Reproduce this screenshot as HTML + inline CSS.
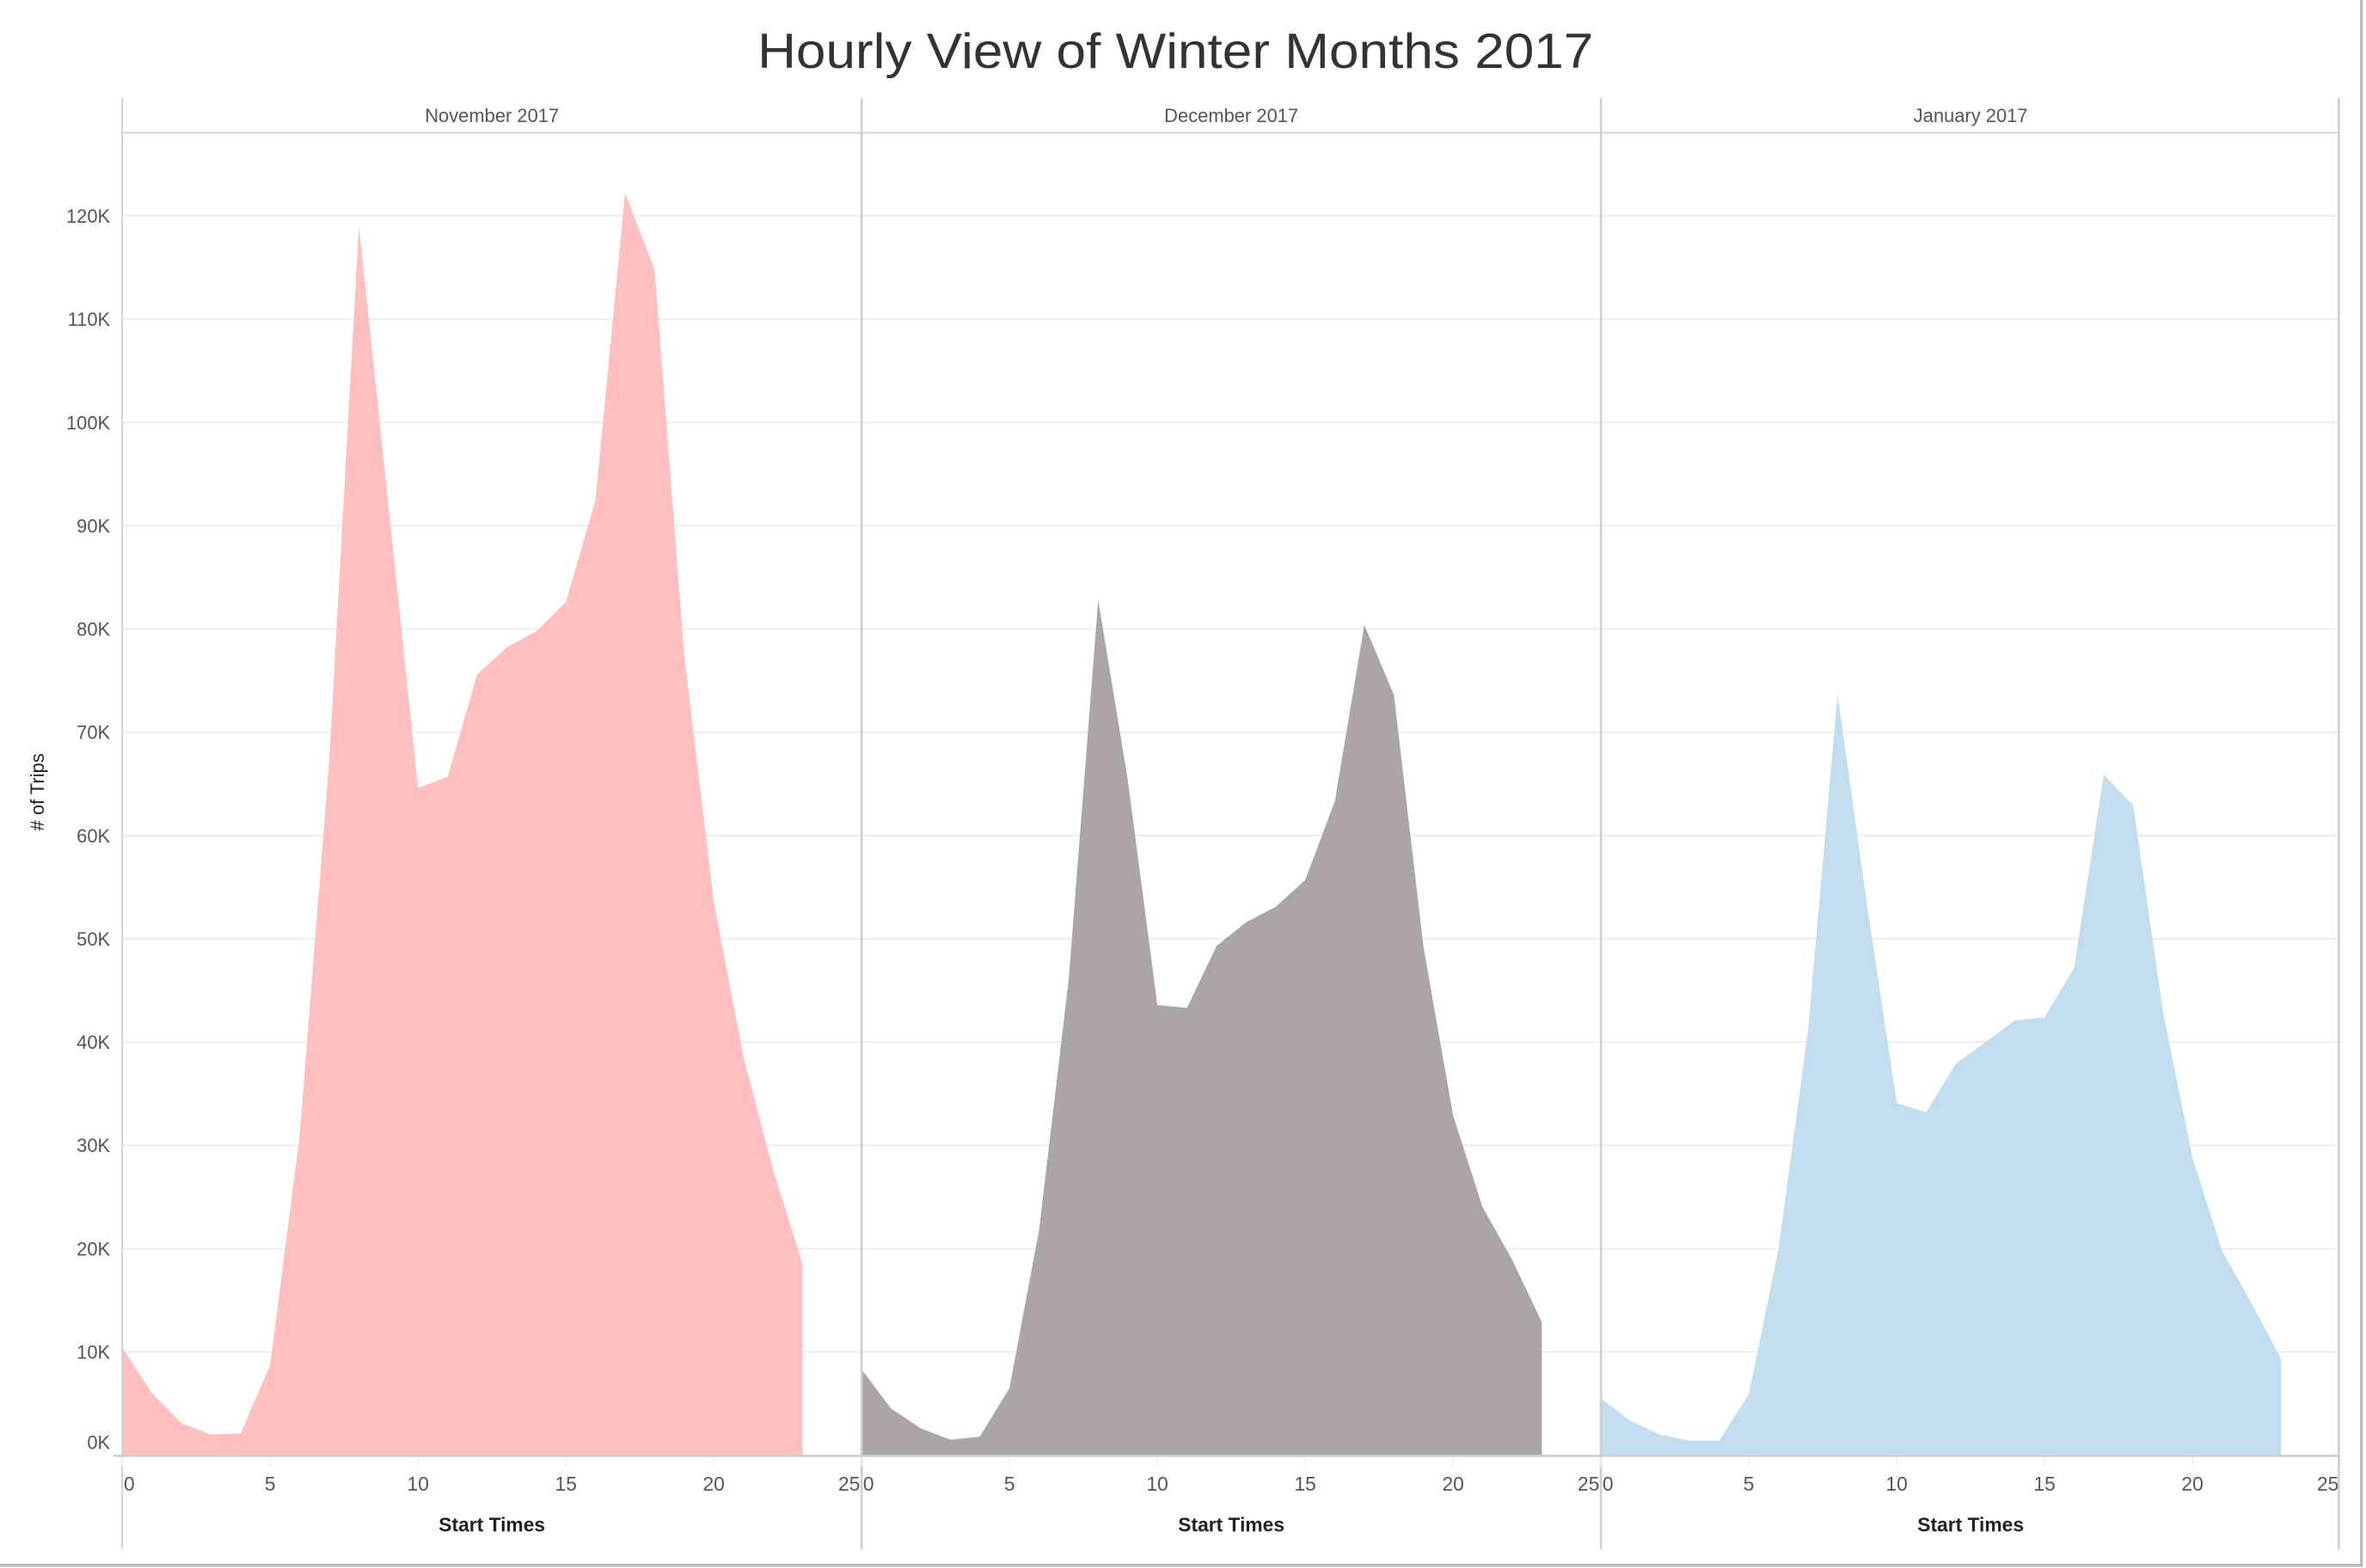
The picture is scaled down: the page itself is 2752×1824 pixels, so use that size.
<!DOCTYPE html>
<html><head><meta charset="utf-8"><style>
html,body{margin:0;padding:0;background:#fff;}
svg{display:block;font-family:"Liberation Sans",sans-serif;}
</style></head><body>
<svg id="chart" width="2752" height="1824" viewBox="0 0 1568 1039.3" xmlns="http://www.w3.org/2000/svg">
<rect x="0" y="0" width="1568" height="1040" fill="#fff"/>
<text x="779" y="45" text-anchor="middle" font-size="33" fill="#333" textLength="554" lengthAdjust="spacingAndGlyphs">Hourly View of Winter Months 2017</text>
<line x1="1565" y1="0" x2="1565" y2="1038" stroke="#bbb" stroke-width="2"/>
<line x1="0" y1="1037.5" x2="1566" y2="1037.5" stroke="#bbb" stroke-width="2"/>
<text transform="translate(29,525) rotate(-90)" text-anchor="middle" font-size="12.5" fill="#222">#  of Trips</text>
<g id="grid"></g>
<g id="panels"></g>
</svg>
<script>
const months = ["November 2017","December 2017","January 2017"];
const colors = ["#ffbfbf","#aba6a3","#c3ddf0"];
const hours = [0,1,2,3,4,5,6,7,8,9,10,11,12,13,14,15,16,17,18,19,20,21,22,23];
const novTrips = [10.4,6,3.1,2,2.1,8.7,31,67.4,119,92,64.6,65.7,75.6,78.2,79.8,82.6,92.5,122.2,114.8,77.4,53.6,38.6,27.7,18.5];
const decTrips = [8.3,4.5,2.6,1.5,1.8,6.5,21.8,46,82.8,65.4,43.6,43.3,49.3,51.6,53.1,55.7,63.3,80.4,73.6,49.2,32.9,24,18.9,12.9];
const janTrips = [5.5,3.3,2,1.4,1.4,5.9,19.9,41.1,73.7,53.2,34.1,33.2,37.9,40,42.1,42.4,47.2,65.9,62.9,43,28.8,19.8,14.7,9.3];
const yTicks = [0,10,20,30,40,50,60,70,80,90,100,110,120];
const xTicks = [0,5,10,15,20,25];

const NS = "http://www.w3.org/2000/svg";
const series = [novTrips, decTrips, janTrips];
const panelLeft = [81,571,1061];
const panelW = 490;
function yScale(v){ return 964.5 - v*6.845; }
function xScale(p,h){ return panelLeft[p] + h*(panelW/25); }
function mk(tag, attrs, parent){ const e=document.createElementNS(NS,tag); for(const k in attrs) e.setAttribute(k,attrs[k]); parent.appendChild(e); return e; }

const grid = document.getElementById('grid');
const panels = document.getElementById('panels');
yTicks.forEach(t=>{
  const y=yScale(t);
  if(t>0){
    const l=mk('line',{x1:81,x2:1550,y1:y,y2:y,stroke:'#ececec','stroke-width':1},grid);
    
    
  }
  const ly = t===0 ? y-4 : y+4.5;
  const tx=mk('text',{x:73,y:ly,'text-anchor':'end','font-size':12.5,fill:'#555'},grid);
  tx.textContent=t+'K';
  
  
});

months.forEach((m,p)=>{
  const g=mk('g',{},panels);
  
  
  const vals=series[p];
  let d='M'+xScale(p,hours[0])+','+yScale(0);
  hours.forEach((h,i)=>{ d+=' L'+xScale(p,h)+','+yScale(vals[i]); });
  d+=' L'+xScale(p,hours[hours.length-1])+','+yScale(0)+' Z';
  const a=mk('path',{d:d,fill:colors[p]},g);
  
  
  mk('line',{x1:panelLeft[p],x2:panelLeft[p],y1:65,y2:1027,stroke:'#cfcfcf','stroke-width':p===0?1:1.5},g);
  mk('line',{x1:panelLeft[p],x2:panelLeft[p]+panelW,y1:88,y2:88,stroke:'#d0d0d0','stroke-width':1},g);
  mk('line',{x1:panelLeft[p],x2:panelLeft[p]+panelW,y1:965,y2:965,stroke:'#cfcfcf','stroke-width':1.5},g);
  const hd=mk('text',{x:panelLeft[p]+245,y:81,'text-anchor':'middle','font-size':12.5,fill:'#555'},g);
  hd.textContent=m;
  
  
  xTicks.forEach(t=>{
    const x=xScale(p,t);
    mk('line',{x1:x,x2:x,y1:966,y2:972,stroke:'#eee','stroke-width':1},g);
    const anchor = t===0?'start':(t===25?'end':'middle');
    const tx=mk('text',{x:t===0?x+1:(t===25?x-1:x),y:988,'text-anchor':anchor,'font-size':13,fill:'#555'},g);
    tx.textContent=t;
    
    
  });
  const xt=mk('text',{x:panelLeft[p]+245,y:1015,'text-anchor':'middle','font-size':13,'font-weight':'bold',fill:'#222'},g);
  xt.textContent='Start Times';
  
  
});
mk('line',{x1:1550,x2:1550,y1:65,y2:1027,stroke:'#cfcfcf','stroke-width':1.5},panels);
mk('line',{x1:75,x2:81,y1:965,y2:965,stroke:'#cfcfcf','stroke-width':1.5},panels);
</script>
</body></html>
